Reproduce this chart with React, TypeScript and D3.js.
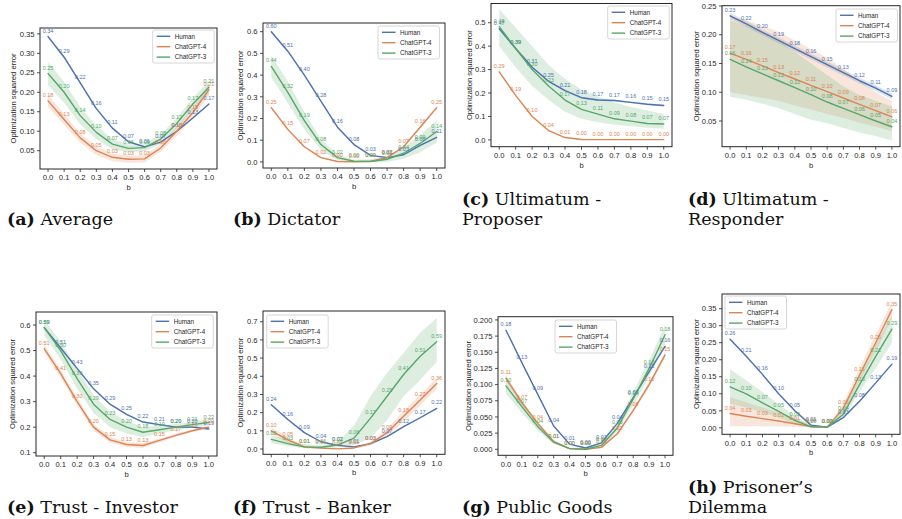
import React from 'react';
import * as d3 from 'd3';

const bValues = [0, 0.1, 0.2, 0.3, 0.4, 0.5, 0.6, 0.7, 0.8, 0.9, 1.0];
const seriesNames = ['Human', 'ChatGPT-4', 'ChatGPT-3'];
const seriesColors = ['#4c72b0', '#dd8452', '#55a868'];

// (a) Average
const aHuman = [0.343, 0.29, 0.224, 0.158, 0.108, 0.073, 0.06, 0.072, 0.10, 0.134, 0.17];
const aHumanErr = [0.004, 0.004, 0.003, 0.003, 0.003, 0.002, 0.002, 0.002, 0.002, 0.002, 0.002];
const aGpt4 = [0.178, 0.13, 0.083, 0.05, 0.033, 0.028, 0.029, 0.057, 0.10, 0.148, 0.207];
const aGpt4Err = [0.016, 0.014, 0.012, 0.011, 0.01, 0.009, 0.009, 0.01, 0.012, 0.013, 0.015];
const aGpt3 = [0.248, 0.20, 0.14, 0.097, 0.067, 0.056, 0.058, 0.08, 0.12, 0.17, 0.213];
const aGpt3Err = [0.03, 0.027, 0.022, 0.017, 0.013, 0.01, 0.01, 0.012, 0.014, 0.015, 0.016];
const aYTicks = [0.05, 0.10, 0.15, 0.20, 0.25, 0.30, 0.35];

// (b) Dictator
const bHuman = [0.60, 0.51, 0.40, 0.28, 0.16, 0.08, 0.03, 0.02, 0.033, 0.076, 0.113];
const bHumanErr = [0.005, 0.005, 0.004, 0.004, 0.003, 0.002, 0.002, 0.002, 0.002, 0.003, 0.003];
const bGpt4 = [0.25, 0.15, 0.07, 0.02, 0.002, 0.001, 0.003, 0.02, 0.07, 0.16, 0.25];
const bGpt4Err = [0.006, 0.005, 0.004, 0.003, 0.002, 0.001, 0.001, 0.002, 0.004, 0.005, 0.006];
const bGpt3 = [0.44, 0.32, 0.19, 0.08, 0.02, 0.003, 0.002, 0.012, 0.04, 0.085, 0.14];
const bGpt3Lo = [0.39, 0.27, 0.15, 0.055, 0.008, 0.0, 0.0, 0.0, 0.015, 0.045, 0.09];
const bGpt3Hi = [0.49, 0.37, 0.23, 0.105, 0.035, 0.01, 0.012, 0.03, 0.065, 0.125, 0.19];
const bYTicks = [0, 0.1, 0.2, 0.3, 0.4, 0.5, 0.6];

// (c) Ultimatum - Proposer
const cHuman = [0.474, 0.39, 0.31, 0.25, 0.21, 0.18, 0.17, 0.168, 0.16, 0.152, 0.147];
const cHumanErr = [0.005, 0.005, 0.005, 0.004, 0.004, 0.004, 0.004, 0.004, 0.004, 0.004, 0.004];
const cGpt4 = [0.29, 0.19, 0.10, 0.04, 0.01, 0.002, 0.001, 0.001, 0.001, 0.001, 0.001];
const cGpt4Err = [0.004, 0.003, 0.003, 0.002, 0.001, 0.001, 0.001, 0.001, 0.001, 0.001, 0.001];
const cGpt3 = [0.483, 0.39, 0.30, 0.23, 0.17, 0.13, 0.11, 0.09, 0.08, 0.07, 0.068];
const cGpt3Lo = [0.40, 0.31, 0.23, 0.17, 0.12, 0.09, 0.075, 0.065, 0.058, 0.052, 0.048];
const cGpt3Hi = [0.557, 0.48, 0.40, 0.32, 0.26, 0.215, 0.185, 0.16, 0.14, 0.125, 0.11];
const cYTicks = [0, 0.1, 0.2, 0.3, 0.4, 0.5];

// (d) Ultimatum - Responder
const dHuman = [0.233, 0.219, 0.204, 0.19, 0.176, 0.162, 0.148, 0.134, 0.12, 0.107, 0.093];
const dHumanErr = [0.005, 0.005, 0.005, 0.005, 0.005, 0.005, 0.005, 0.005, 0.005, 0.005, 0.005];
const dGpt4 = [0.168, 0.157, 0.146, 0.134, 0.123, 0.112, 0.101, 0.09, 0.079, 0.068, 0.057];
const dGpt4Lo = [0.10, 0.095, 0.09, 0.085, 0.077, 0.07, 0.062, 0.055, 0.047, 0.04, 0.032];
const dGpt4Hi = [0.232, 0.225, 0.215, 0.205, 0.19, 0.175, 0.16, 0.14, 0.12, 0.10, 0.085];
const dGpt3 = [0.157, 0.144, 0.132, 0.12, 0.108, 0.096, 0.083, 0.072, 0.061, 0.05, 0.04];
const dGpt3Lo = [0.092, 0.087, 0.08, 0.072, 0.062, 0.052, 0.046, 0.038, 0.03, 0.024, 0.016];
const dGpt3Hi = [0.225, 0.215, 0.205, 0.19, 0.17, 0.15, 0.13, 0.11, 0.095, 0.085, 0.075];
const dYTicks = [0.05, 0.10, 0.15, 0.20, 0.25];

// (e) Trust - Investor
const eHuman = [0.59, 0.51, 0.43, 0.35, 0.29, 0.25, 0.22, 0.21, 0.20, 0.20, 0.193];
const eHumanErr = [0.004, 0.004, 0.004, 0.004, 0.003, 0.003, 0.003, 0.003, 0.003, 0.003, 0.003];
const eGpt4 = [0.508, 0.41, 0.30, 0.20, 0.15, 0.132, 0.128, 0.148, 0.168, 0.186, 0.20];
const eGpt4Err = [0.015, 0.015, 0.015, 0.013, 0.011, 0.01, 0.01, 0.008, 0.006, 0.005, 0.005];
const eGpt3 = [0.59, 0.50, 0.39, 0.29, 0.23, 0.20, 0.18, 0.19, 0.20, 0.21, 0.218];
const eGpt3Err = [0.03, 0.035, 0.04, 0.035, 0.03, 0.025, 0.02, 0.015, 0.012, 0.012, 0.012];
const eYTicks = [0.1, 0.2, 0.3, 0.4, 0.5, 0.6];

// (f) Trust - Banker
const fHuman = [0.243, 0.162, 0.09, 0.04, 0.02, 0.012, 0.03, 0.068, 0.123, 0.172, 0.223];
const fHumanErr = [0.005, 0.005, 0.004, 0.003, 0.002, 0.002, 0.002, 0.003, 0.004, 0.005, 0.005];
const fGpt4 = [0.10, 0.05, 0.012, 0.005, 0.001, 0.006, 0.03, 0.09, 0.18, 0.27, 0.36];
const fGpt4Err = [0.02, 0.015, 0.006, 0.003, 0.002, 0.004, 0.01, 0.02, 0.03, 0.03, 0.03];
const fGpt3 = [0.053, 0.03, 0.012, 0.01, 0.022, 0.06, 0.17, 0.29, 0.41, 0.51, 0.59];
const fGpt3Lo = [0.032, 0.015, 0.004, 0.002, 0.008, 0.02, 0.06, 0.16, 0.29, 0.38, 0.48];
const fGpt3Hi = [0.075, 0.05, 0.028, 0.02, 0.04, 0.13, 0.29, 0.42, 0.53, 0.64, 0.72];
const fYTicks = [0, 0.1, 0.2, 0.3, 0.4, 0.5, 0.6, 0.7];

// (g) Public Goods
const gHuman = [0.184, 0.134, 0.085, 0.036, 0.008, 0.002, 0.01, 0.04, 0.08, 0.12, 0.159];
const gHumanErr = [0.001, 0.001, 0.001, 0.001, 0.001, 0.001, 0.001, 0.001, 0.001, 0.001, 0.001];
const gGpt4 = [0.11, 0.072, 0.04, 0.012, 0.001, 0.0, 0.003, 0.024, 0.06, 0.10, 0.146];
const gGpt4Err = [0.005, 0.004, 0.003, 0.002, 0.001, 0.001, 0.001, 0.002, 0.003, 0.004, 0.004];
const gGpt3 = [0.098, 0.066, 0.035, 0.011, 0.001, 0.0, 0.006, 0.033, 0.078, 0.125, 0.177];
const gGpt3Err = [0.012, 0.01, 0.006, 0.003, 0.001, 0.001, 0.002, 0.006, 0.01, 0.013, 0.015];
const gYTicks = [0, 0.025, 0.05, 0.075, 0.1, 0.125, 0.15, 0.175, 0.2];

// (h) Prisoner's Dilemma
const hHuman = [0.26, 0.21, 0.157, 0.10, 0.05, 0.008, 0.002, 0.03, 0.078, 0.132, 0.187];
const hHumanErr = [0.002, 0.002, 0.002, 0.002, 0.002, 0.001, 0.001, 0.002, 0.002, 0.002, 0.002];
const hGpt4 = [0.042, 0.034, 0.027, 0.02, 0.012, 0.004, 0.002, 0.058, 0.155, 0.25, 0.347];
const hGpt4Lo = [0.005, 0.005, 0.005, 0.004, 0.003, 0.001, 0.0, 0.045, 0.135, 0.225, 0.32];
const hGpt4Hi = [0.09, 0.075, 0.06, 0.045, 0.028, 0.008, 0.004, 0.072, 0.175, 0.275, 0.37];
const hGpt3 = [0.12, 0.10, 0.073, 0.048, 0.022, 0.003, 0.002, 0.04, 0.127, 0.21, 0.29];
const hGpt3Lo = [0.07, 0.06, 0.045, 0.03, 0.013, 0.001, 0.0, 0.03, 0.105, 0.175, 0.25];
const hGpt3Hi = [0.172, 0.14, 0.105, 0.07, 0.035, 0.006, 0.004, 0.052, 0.155, 0.245, 0.33];
const hYTicks = [0, 0.05, 0.1, 0.15, 0.2, 0.25, 0.3, 0.35];

type Series = { values: number[]; lo: number[]; hi: number[] };
const sym = (v: number[], e: number[]): Series => ({
  values: v,
  lo: v.map((d, i) => d - e[i]),
  hi: v.map((d, i) => d + e[i]),
});
const asym = (v: number[], lo: number[], hi: number[]): Series => ({ values: v, lo, hi });

type PanelCfg = {
  key: string;
  tag: string;
  caption: string[];
  series: Series[];
  frame: { l: number; r: number; t: number; b: number };
  ylim: [number, number];
  yTicks: number[];
  yDec: number;
  ylabelX: number;
  legend: [number, number];
  capX: number;
  capY: number[];
};

const panels: PanelCfg[] = [
  { key: 'a', tag: '(a)', caption: ['Average'],
    series: [sym(aHuman, aHumanErr), sym(aGpt4, aGpt4Err), sym(aGpt3, aGpt3Err)],
    frame: { l: 40, r: 217, t: 28, b: 169 }, ylim: [0.003, 0.365], yTicks: aYTicks, yDec: 2,
    ylabelX: 13, legend: [152.7, 30], capX: 7, capY: [224.5] },
  { key: 'b', tag: '(b)', caption: ['Dictator'],
    series: [sym(bHuman, bHumanErr), sym(bGpt4, bGpt4Err), asym(bGpt3, bGpt3Lo, bGpt3Hi)],
    frame: { l: 263, r: 445, t: 23, b: 168 }, ylim: [-0.028, 0.64], yTicks: bYTicks, yDec: 1,
    ylabelX: 240, legend: [378, 26], capX: 233, capY: [224.5] },
  { key: 'c', tag: '(c)', caption: ['Ultimatum -', 'Proposer'],
    series: [sym(cHuman, cHumanErr), sym(cGpt4, cGpt4Err), asym(cGpt3, cGpt3Lo, cGpt3Hi)],
    frame: { l: 491, r: 672, t: 3.5, b: 146.7 }, ylim: [-0.029, 0.582], yTicks: cYTicks, yDec: 1,
    ylabelX: 469, legend: [607.7, 6], capX: 462, capY: [205, 224.5] },
  { key: 'd', tag: '(d)', caption: ['Ultimatum -', 'Responder'],
    series: [sym(dHuman, dHumanErr), asym(dGpt4, dGpt4Lo, dGpt4Hi), asym(dGpt3, dGpt3Lo, dGpt3Hi)],
    frame: { l: 722, r: 900, t: 5.7, b: 146.7 }, ylim: [0.0053, 0.2505], yTicks: dYTicks, yDec: 2,
    ylabelX: 696, legend: [836, 9], capX: 688, capY: [205, 224.5] },
  { key: 'e', tag: '(e)', caption: ['Trust - Investor'],
    series: [sym(eHuman, eHumanErr), sym(eGpt4, eGpt4Err), sym(eGpt3, eGpt3Err)],
    frame: { l: 36, r: 217, t: 312, b: 456 }, ylim: [0.087, 0.651], yTicks: eYTicks, yDec: 1,
    ylabelX: 12.7, legend: [151.7, 315], capX: 7, capY: [512.5] },
  { key: 'f', tag: '(f)', caption: ['Trust - Banker'],
    series: [sym(fHuman, fHumanErr), sym(fGpt4, fGpt4Err), asym(fGpt3, fGpt3Lo, fGpt3Hi)],
    frame: { l: 263, r: 445, t: 311, b: 454.3 }, ylim: [-0.029, 0.759], yTicks: fYTicks, yDec: 1,
    ylabelX: 240, legend: [266.7, 315], capX: 233, capY: [512.5] },
  { key: 'g', tag: '(g)', caption: ['Public Goods'],
    series: [sym(gHuman, gHumanErr), sym(gGpt4, gGpt4Err), sym(gGpt3, gGpt3Err)],
    frame: { l: 498, r: 673, t: 316.7, b: 455.3 }, ylim: [-0.0093, 0.205], yTicks: gYTicks, yDec: 3,
    ylabelX: 468.3, legend: [555, 320], capX: 462, capY: [512.5] },
  { key: 'h', tag: '(h)', caption: ["Prisoner\u2019s", 'Dilemma'],
    series: [sym(hHuman, hHumanErr), asym(hGpt4, hGpt4Lo, hGpt4Hi), asym(hGpt3, hGpt3Lo, hGpt3Hi)],
    frame: { l: 722, r: 900, t: 294, b: 434.3 }, ylim: [-0.019, 0.393], yTicks: hYTicks, yDec: 2,
    ylabelX: 696, legend: [725, 296], capX: 688, capY: [493, 512.5] },
];

const SANS = "'Liberation Sans', Arial, sans-serif";
const SERIF = "'DejaVu Serif', serif";
const AX = '#262626';

function Panel({ p }: { p: PanelCfg }) {
  const { l, r, t, b } = p.frame;
  const x = d3.scaleLinear().domain([-0.05, 1.05]).range([l, r]);
  const y = d3.scaleLinear().domain(p.ylim).range([b, t]);
  const clipId = `clip-${p.key}`;

  const lineGen = d3
    .line<number>()
    .x((_, i) => x(bValues[i]))
    .y((d) => y(d));

  return (
    <g>
      <defs>
        <clipPath id={clipId}>
          <rect x={l} y={t} width={r - l} height={b - t} />
        </clipPath>
      </defs>
      <g clipPath={`url(#${clipId})`}>
        {p.series.map((s, si) => {
          const areaGen = d3
            .area<number>()
            .x((_, i) => x(bValues[i]))
            .y0((_, i) => y(s.lo[i]))
            .y1((_, i) => y(s.hi[i]));
          return (
            <path key={`band${si}`} d={areaGen(s.values) || ''} fill={seriesColors[si]} fillOpacity={0.2} stroke="none" />
          );
        })}
      </g>
      {p.series.map((s, si) => (
        <path key={`line${si}`} d={lineGen(s.values) || ''} fill="none" stroke={seriesColors[si]} strokeWidth={1.4} strokeLinejoin="round" strokeLinecap="round" />
      ))}
      {p.series.map((s, si) =>
        s.values.map((v, i) => (
          <text key={`lab${si}-${i}`} x={x(bValues[i])} y={y(v) - 4} fontSize={5.5} fontFamily={SANS} fill={seriesColors[si]} textAnchor="middle">
            {v.toFixed(2)}
          </text>
        ))
      )}
      {/* frame */}
      <rect x={l} y={t} width={r - l} height={b - t} fill="none" stroke={AX} strokeWidth={1} />
      {/* x ticks */}
      {bValues.map((v) => (
        <g key={`xt${v}`}>
          <line x1={x(v)} x2={x(v)} y1={b} y2={b + 3} stroke={AX} strokeWidth={0.8} />
          <text x={x(v)} y={b + 11.3} fontSize={7.6} fontFamily={SANS} fill={AX} textAnchor="middle">
            {v.toFixed(1)}
          </text>
        </g>
      ))}
      <text x={(x(0) + x(1)) / 2} y={b + 21} fontSize={7.6} fontFamily={SANS} fill={AX} textAnchor="middle">b</text>
      {/* y ticks */}
      {p.yTicks.map((v) => (
        <g key={`yt${v}`}>
          <line x1={l - 3} x2={l} y1={y(v)} y2={y(v)} stroke={AX} strokeWidth={0.8} />
          <text x={l - 5.5} y={y(v) + 2.7} fontSize={7.6} fontFamily={SANS} fill={AX} textAnchor="end">
            {v.toFixed(p.yDec)}
          </text>
        </g>
      ))}
      <text
        transform={`translate(${p.ylabelX},${(t + b) / 2}) rotate(-90)`}
        fontSize={7.6}
        fontFamily={SANS}
        fill={AX}
        textAnchor="middle"
        dominantBaseline="central"
      >
        Optimization squared error
      </text>
      {/* legend */}
      <g transform={`translate(${p.legend[0]},${p.legend[1]})`}>
        <rect x={0} y={0} width={61.5} height={33} rx={2} fill="#fff" fillOpacity={0.85} stroke="#cccccc" strokeWidth={0.8} />
        {seriesNames.map((n, i) => (
          <g key={n}>
            <line x1={4} x2={17.5} y1={6.3 + i * 10.4} y2={6.3 + i * 10.4} stroke={seriesColors[i]} strokeWidth={1.4} />
            <text x={22} y={6.3 + i * 10.4 + 2.2} fontSize={6.3} fontFamily={SANS} fill={AX}>{n}</text>
          </g>
        ))}
      </g>
      {/* caption */}
      {p.caption.map((c, ci) => (
        <text key={`cap${ci}`} x={p.capX} y={p.capY[ci]} fontSize={17.5} fontFamily={SERIF} fill="#111">
          {ci === 0 ? (
            <>
              <tspan fontWeight="bold">{p.tag}</tspan>
              <tspan>{' ' + c}</tspan>
            </>
          ) : (
            c
          )}
        </text>
      ))}
    </g>
  );
}

export default function App() {
  return (
    <svg
      width={902}
      height={519}
      viewBox="0 0 902 519"
      style={{ position: 'absolute', left: 0, top: 0, background: '#fff' }}
    >
      <rect x={0} y={0} width={902} height={519} fill="#fff" />
      {panels.map((p) => (
        <Panel key={p.key} p={p} />
      ))}
    </svg>
  );
}
